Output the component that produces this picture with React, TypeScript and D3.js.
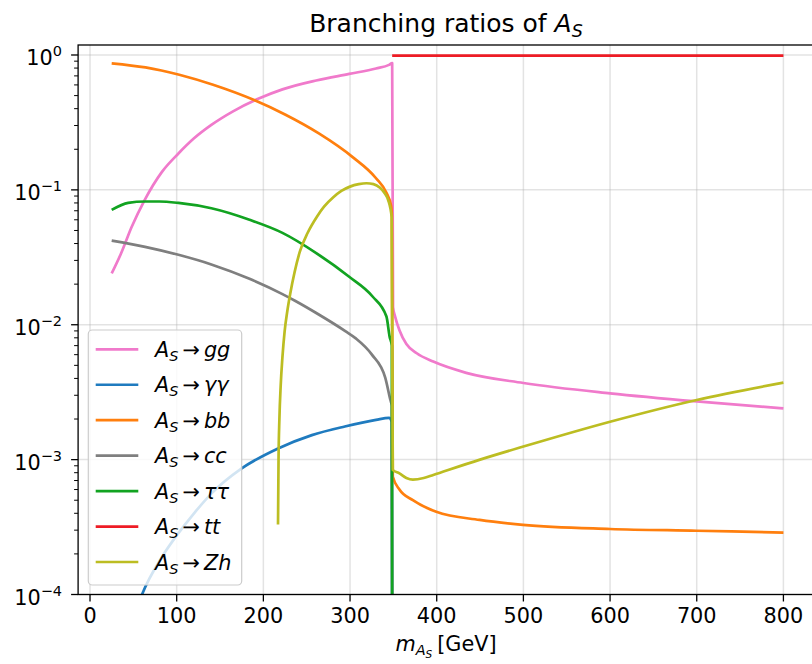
import React from "react";
import * as d3 from "d3";

// ---- data ----
const massGG = [25, 36, 48, 63, 83, 102, 120, 140, 165, 194, 222, 261, 299, 330, 345, 348.6, 349.6, 352, 357, 365, 377, 396, 434, 500, 600, 700, 800];
const brGG = [0.024, 0.034, 0.053, 0.084, 0.136, 0.186, 0.241, 0.303, 0.382, 0.473, 0.556, 0.647, 0.724, 0.794, 0.845, 0.87, 0.0135, 0.0115, 0.0091, 0.0072, 0.00615, 0.00533, 0.0044, 0.0037, 0.0031, 0.0027, 0.0024];

const massAA = [25, 40, 60, 83, 102, 120, 140, 175, 217, 256, 294, 330, 345, 348.2, 348.8];
const brAA = [1.5e-5, 4e-5, 1e-4, 1.9e-4, 2.85e-4, 4e-4, 5.6e-4, 8.6e-4, 1.21e-3, 1.52e-3, 1.76e-3, 1.97e-3, 2.04e-3, 1.9e-3, 1e-5];

const massBB = [25, 64, 103, 142, 190, 225, 264, 303, 330, 342, 347.4, 348.3, 349.3, 357, 372.5, 399.5, 449.5, 499.5, 600, 700, 800];
const brBB = [0.868, 0.809, 0.713, 0.601, 0.461, 0.362, 0.262, 0.175, 0.122, 0.095, 0.076, 0.063, 7.5e-4, 6e-4, 5e-4, 4.1e-4, 3.57e-4, 3.28e-4, 3.06e-4, 2.97e-4, 2.88e-4];

const massCC = [25, 63.5, 102, 140, 184, 222, 237, 261, 294.5, 307, 325, 340.6, 346.4, 348.2, 348.8];
const brCC = [0.042, 0.0378, 0.033, 0.028, 0.0219, 0.01687, 0.015, 0.01222, 0.00897, 0.00789, 0.00603, 0.00406, 0.00279, 0.0025, 1e-5];

const massTT = [25, 44, 63.5, 80, 102, 140, 184, 222, 261, 299, 326, 342, 345.6, 348.2, 348.8];
const brTT = [0.071, 0.080, 0.082, 0.082, 0.080, 0.073, 0.060, 0.048, 0.034, 0.0227, 0.0162, 0.0115, 0.0082, 0.007, 1e-5];

const massTop = [348.6, 400, 500, 600, 700, 800];
const brTop = [0.99, 0.99, 0.99, 0.99, 0.99, 0.99];

const massZH = [216.9, 217.5, 218.5, 220, 222, 224.5, 227.6, 231, 236, 242, 251, 261.6, 270, 280.7, 290, 300, 310, 319, 327, 334.6, 340, 344, 348, 349.3, 357, 365, 372.5, 385, 396, 450, 500, 600, 700, 800];
const brZH = [3.3e-4, 1.0e-3, 2.0e-3, 3.55e-3, 5.75e-3, 8.9e-3, 0.0126, 0.017, 0.0245, 0.0347, 0.0479, 0.063, 0.075, 0.0881, 0.0982, 0.1057, 0.1102, 0.112, 0.1104, 0.1035, 0.0944, 0.0841, 0.063, 8.4e-4, 7.9e-4, 7.3e-4, 7.1e-4, 7.3e-4, 7.7e-4, 1.0e-3, 1.25e-3, 1.91e-3, 2.77e-3, 3.72e-3];

const finalStates = ["gg", "γγ", "bb", "cc", "ττ", "tt", "Zh"];
const seriesColors = ["#f07acb", "#1f7bbf", "#ff7f0e", "#7f7f7f", "#12a321", "#ee1c25", "#bcbd22"];
const seriesMass = [massGG, massAA, massBB, massCC, massTT, massTop, massZH];
const seriesBR = [brGG, brAA, brBB, brCC, brTT, brTop, brZH];

const xTicks = [0, 100, 200, 300, 400, 500, 600, 700, 800];
const yTickExps = [0, -1, -2, -3, -4];

const FONT = "DejaVu Sans, sans-serif";

export default function App() {
  const W = 812, H = 664;
  const X0 = 78.1, X1 = 817, Y0 = 45, Y1 = 594.5;
  const x = d3.scaleLinear().domain([-13.75, 838.75]).range([X0, X1]);
  const y = d3.scaleLog().domain([1e-4, 1.186]).range([Y1, Y0]);

  const line = d3
    .line<[number, number]>()
    .x((d) => x(d[0]))
    .y((d) => y(d[1]))
    .curve(d3.curveMonotoneX);

  const minor: number[] = [];
  for (let e = -4; e <= 0; e++) {
    for (let k = 2; k <= 9; k++) {
      const v = k * Math.pow(10, e);
      if (v <= 1.186 && v >= 1e-4) minor.push(v);
    }
  }

  // legend layout
  const LX = 88.3, LY = 330, LW = 153.4, LH = 255;
  const rowY = (i: number) => 349.3 + i * 35.45;

  return (
    <svg
      width={W}
      height={H}
      style={{ position: "absolute", left: 0, top: 0, background: "#fff" }}
      fontFamily={FONT}
    >
      <defs>
        <clipPath id="plotclip">
          <rect x={X0} y={Y0} width={X1 - X0} height={Y1 - Y0} />
        </clipPath>
      </defs>
      <rect x={0} y={0} width={W} height={H} fill="#fff" />

      {/* grid */}
      <g stroke="#b0b0b0" strokeOpacity={0.35} strokeWidth={1.5}>
        {xTicks.map((t) => (
          <line key={"gx" + t} x1={x(t)} x2={x(t)} y1={Y0} y2={Y1} />
        ))}
        {yTickExps.map((e) => (
          <line key={"gy" + e} x1={X0} x2={X1} y1={y(Math.pow(10, e))} y2={y(Math.pow(10, e))} />
        ))}
      </g>

      {/* series */}
      <g clipPath="url(#plotclip)" fill="none" strokeWidth={2.7} strokeLinejoin="round" strokeLinecap="butt">
        {seriesMass.map((ms, i) => {
          const pts = ms.map((m, j) => [m, seriesBR[i][j]] as [number, number]);
          return <path key={"s" + i} d={line(pts) || ""} stroke={seriesColors[i]} />;
        })}
      </g>

      {/* legend */}
      <g>
        <rect x={LX} y={LY} width={LW} height={LH} rx={4} ry={4} fill="#fff" fillOpacity={0.8} stroke="#cccccc" strokeWidth={1.2} />
        {finalStates.map((fs, i) => (
          <g key={"lg" + i}>
            <line x1={95.7} x2={138.3} y1={rowY(i)} y2={rowY(i)} stroke={seriesColors[i]} strokeWidth={2.7} />
            <text x={155} y={rowY(i) + 7.5} fontSize={20.8} fill="#000">
              <tspan fontStyle="italic">A</tspan>
              <tspan fontStyle="italic" fontSize={14.5} dy={4}>S</tspan>
              <tspan dy={-4} dx={4}>→</tspan>
              <tspan fontStyle="italic" dx={4}>{fs}</tspan>
            </text>
          </g>
        ))}
      </g>

      {/* spines */}
      <rect x={X0} y={Y0} width={X1 - X0} height={Y1 - Y0} fill="none" stroke="#000" strokeWidth={1.3} />

      {/* x ticks */}
      <g>
        {xTicks.map((t) => (
          <g key={"xt" + t}>
            <line x1={x(t)} x2={x(t)} y1={Y1} y2={Y1 + 7} stroke="#000" strokeWidth={1.3} />
            <text x={x(t)} y={Y1 + 28} textAnchor="middle" fontSize={20.8} fill="#000">
              {t}
            </text>
          </g>
        ))}
      </g>

      {/* y ticks */}
      <g>
        {minor.map((v) => (
          <line key={"ym" + v} x1={X0 - 4} x2={X0} y1={y(v)} y2={y(v)} stroke="#000" strokeWidth={1} />
        ))}
        {yTickExps.map((e) => (
          <g key={"yt" + e}>
            <line x1={X0 - 7} x2={X0} y1={y(Math.pow(10, e))} y2={y(Math.pow(10, e))} stroke="#000" strokeWidth={1.3} />
            <text x={62} y={y(Math.pow(10, e)) + 10} textAnchor="end" fontSize={20.8} fill="#000">
              <tspan>10</tspan>
              <tspan fontSize={14.5} dy={-9}>{e === 0 ? "0" : "−" + Math.abs(e)}</tspan>
            </text>
          </g>
        ))}
      </g>

      {/* title */}
      <text x={446} y={31.7} textAnchor="middle" fontSize={25} fill="#000">
        <tspan>Branching ratios of </tspan>
        <tspan fontStyle="italic">A</tspan>
        <tspan fontStyle="italic" fontSize={17.5} dy={5}>S</tspan>
      </text>

      {/* x label */}
      <text x={446} y={651} textAnchor="middle" fontSize={20.8} fill="#000">
        <tspan fontStyle="italic">m</tspan>
        <tspan fontStyle="italic" fontSize={14.5} dy={4}>A</tspan>
        <tspan fontStyle="italic" fontSize={10.5} dy={3}>S</tspan>
        <tspan dy={-7} dx={5}>[GeV]</tspan>
      </text>
    </svg>
  );
}
